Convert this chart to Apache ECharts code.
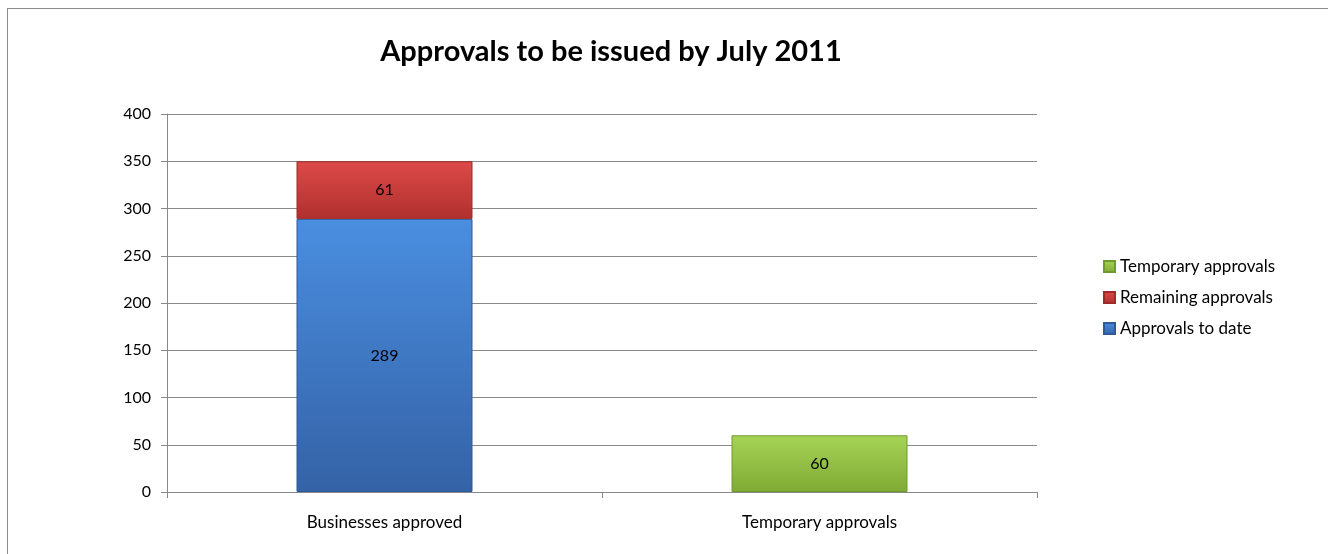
<!DOCTYPE html>
<html>
<head>
<meta charset="utf-8">
<script src="https://cdn.jsdelivr.net/npm/echarts@6/dist/echarts.min.js"></script>
<style>
html,body{margin:0;padding:0;background:#fff;}
#wrap{position:absolute;left:0;top:0;width:1328px;height:554px;}
#frame{position:absolute;left:7px;top:8px;width:1321px;height:546px;border-left:1px solid #8c8c8c;border-top:1px solid #8c8c8c;box-sizing:border-box;}
#chart{position:absolute;left:0;top:0;width:1328px;height:554px;}
</style>
</head>
<body>
<div id="wrap"><div id="frame"></div><div id="chart"></div></div>
<script>
var categories = ['Businesses approved', 'Temporary approvals'];
var approvalsToDate = [289, '-'];
var remainingApprovals = [61, '-'];
var temporaryApprovals = ['-', 60];
var yTicks = [0, 50, 100, 150, 200, 250, 300, 350, 400];
var titleText = 'Approvals to be issued by July 2011';

var FONT = 'Lato, "Open Sans", sans-serif';
function grad(top, bottom) {
  return new echarts.graphic.LinearGradient(0, 0, 0, 1, [
    {offset: 0, color: top}, {offset: 1, color: bottom}
  ]);
}
var labelCfg = {show: true, position: 'inside', color: '#000', fontSize: 16, fontFamily: FONT};

var chart = echarts.init(document.getElementById('chart'), null, {renderer: 'canvas'});
chart.setOption({
  backgroundColor: 'transparent',
  animation: false,
  title: {
    text: titleText,
    left: 606, top: 32, textAlign: 'center',
    textStyle: {fontSize: 29, fontWeight: 'bold', color: '#000', fontFamily: FONT}
  },
  legend: {
    data: ['Temporary approvals', 'Remaining approvals', 'Approvals to date'],
    orient: 'vertical', left: 1098, top: 252,
    itemWidth: 11, itemHeight: 11, itemGap: 12,
    icon: 'rect',
    textStyle: {fontSize: 17, color: '#000', fontFamily: FONT, lineHeight: 19}
  },
  grid: {left: 167, right: 291, top: 114, bottom: 62},
  xAxis: {
    type: 'category', data: categories,
    axisLine: {lineStyle: {color: '#888', width: 1}},
    axisTick: {show: true, length: 6, alignWithLabel: false, lineStyle: {color: '#888'}},
    axisLabel: {fontSize: 17, color: '#000', fontFamily: FONT, margin: 22}
  },
  yAxis: {
    type: 'value', min: yTicks[0], max: yTicks[yTicks.length - 1], interval: 50,
    axisLine: {show: true, lineStyle: {color: '#888', width: 1}},
    axisTick: {show: true, length: 6, lineStyle: {color: '#888'}},
    splitLine: {show: true, lineStyle: {color: '#888', width: 1}},
    axisLabel: {fontSize: 16, color: '#000', fontFamily: FONT, margin: 16}
  },
  series: [
    {
      name: 'Approvals to date', type: 'bar', stack: 'total', data: approvalsToDate,
      barWidth: 176,
      itemStyle: {color: grad('#4a8ee0', '#3462a6'), borderColor: '#2f5a99', borderWidth: 1},
      label: labelCfg
    },
    {
      name: 'Remaining approvals', type: 'bar', stack: 'total', data: remainingApprovals,
      barWidth: 176,
      itemStyle: {color: grad('#dc4a48', '#b0302e'), borderColor: '#9c2b29', borderWidth: 1},
      label: labelCfg
    },
    {
      name: 'Temporary approvals', type: 'bar', stack: 'total', data: temporaryApprovals,
      barWidth: 176,
      itemStyle: {color: grad('#a6d455', '#7faa34'), borderColor: '#6f9a2c', borderWidth: 1},
      label: labelCfg
    }
  ]
});
</script>
</body>
</html>
